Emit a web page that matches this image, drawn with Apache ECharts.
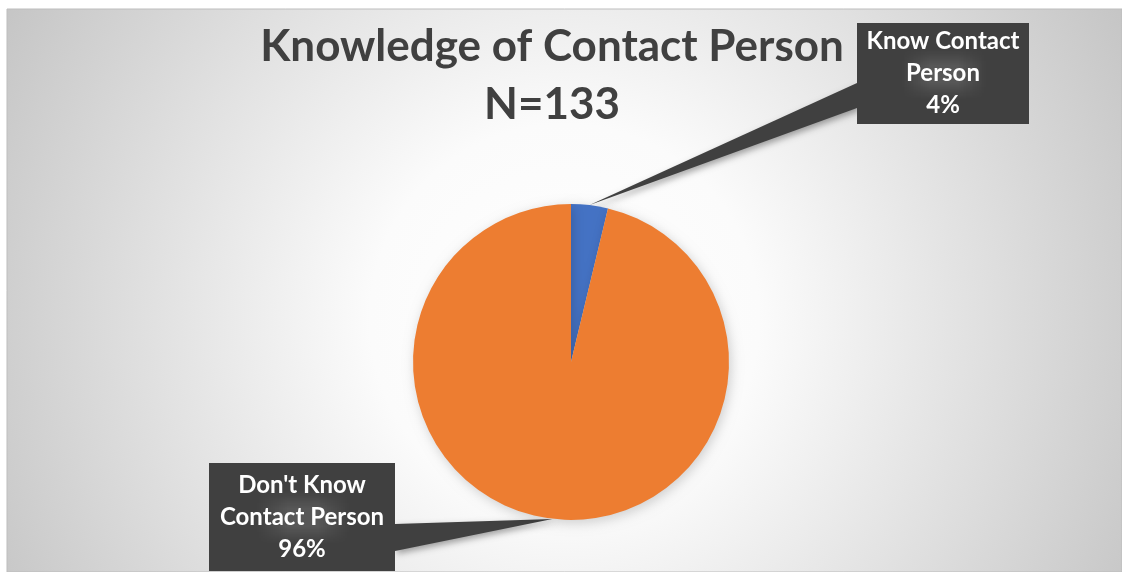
<!DOCTYPE html>
<html>
<head>
<meta charset="utf-8">
<script src="https://cdn.jsdelivr.net/npm/echarts@6/dist/echarts.min.js"></script>
<style>
html,body{margin:0;padding:0;background:#fff;}
#chart{width:1122px;height:572px;}
</style>
</head>
<body>
<div id="chart"></div>
<script>
// ---- data ----
const categories = ["Know Contact Person", "Don't Know Contact Person"];
const labelText = ["Know Contact\nPerson", "Don't Know\nContact Person"];
const counts = [5, 128];
const percents = [4, 96];
const colors = ['#4472C4', '#ED7D31'];
const titleText = 'Knowledge of Contact Person\nN=133';

// ---- layout ----
const CX = 571, CY = 362, R = 158;
const boxes = [
  {x: 857, y: 23, w: 172, h: 101, baseX: 857, baseY1: 83, baseY2: 108},
  {x: 209, y: 463, w: 186, h: 108, baseX: 395, baseY1: 524, baseY2: 551}
];

// dotted pattern
const pc = document.createElement('canvas');
pc.width = 6; pc.height = 6;
const pctx = pc.getContext('2d');
pctx.fillStyle = '#404040'; pctx.fillRect(0,0,6,6);
pctx.fillStyle = '#575757'; pctx.fillRect(2,2,2,2);
const pattern = {image: pc, repeat: 'repeat'};

const chart = echarts.init(document.getElementById('chart'), null, {renderer: 'canvas'});

// tips from data
const total = counts.reduce((a,b)=>a+b,0);
let cum = 0;
const tips = counts.map(v => {
  const mid = (cum + v/2) / total * 2 * Math.PI;
  cum += v;
  return [CX + R*Math.sin(mid), CY - R*Math.cos(mid)];
});

const wedges = boxes.map((b,i) => ({
  type: 'polygon',
  z: 1,
  shape: {points: [tips[i], [b.baseX, b.baseY1], [b.baseX, b.baseY2]]},
  style: {fill: '#404040', shadowBlur: 6, shadowColor: 'rgba(0,0,0,0.35)', shadowOffsetX: 2, shadowOffsetY: 3}
}));

const option = {
  animation: false,
  title: {
    text: titleText,
    left: 547, top: 13, textAlign: 'center',
    textStyle: {fontFamily: 'Lato', fontWeight: 'bold', fontSize: 44, lineHeight: 58, color: '#404040'}
  },
  graphic: [
    {
      type: 'rect', z: -10, silent: true,
      shape: {x: 7, y: 9, width: 1115, height: 563},
      style: {
        fill: {type: 'radial', x: 0.5, y: 0.55, r: 1.15, colorStops: [
          {offset: 0, color: '#ffffff'}, {offset: 0.3, color: '#fbfbfb'}, {offset: 1, color: '#c4c4c4'}
        ]},
        stroke: '#bdbdbd', lineWidth: 1
      }
    }
  ].concat(wedges),
  series: [{
    type: 'pie',
    center: [CX, CY],
    radius: R,
    startAngle: 90,
    clockwise: true,
    z: 2,
    data: categories.map((c,i) => ({
      name: c, value: counts[i],
      itemStyle: {color: colors[i]},
      label: {width: boxes[i].w - 10, height: boxes[i].h - 8}
    })),
    itemStyle: {shadowBlur: 12, shadowColor: 'rgba(0,0,0,0.18)', shadowOffsetX: 2, shadowOffsetY: 3},
    label: {
      show: true,
      position: 'outside',
      formatter: p => labelText[p.dataIndex] + '\n' + percents[p.dataIndex] + '%',
      fontFamily: 'Lato', fontWeight: 'bold', fontSize: 24, lineHeight: 32,
      color: '#ffffff', align: 'center', verticalAlign: 'middle',
      backgroundColor: pattern,
      padding: [4, 5],
      shadowBlur: 6, shadowColor: 'rgba(0,0,0,0.35)', shadowOffsetX: 2, shadowOffsetY: 3
    },
    labelLine: {show: false},
    labelLayout: p => {
      const b = boxes[p.dataIndex];
      return {x: b.x + b.w/2, y: b.y + b.h/2, align: 'center', verticalAlign: 'middle'};
    }
  }]
};
chart.setOption(option);
</script>
</body>
</html>
